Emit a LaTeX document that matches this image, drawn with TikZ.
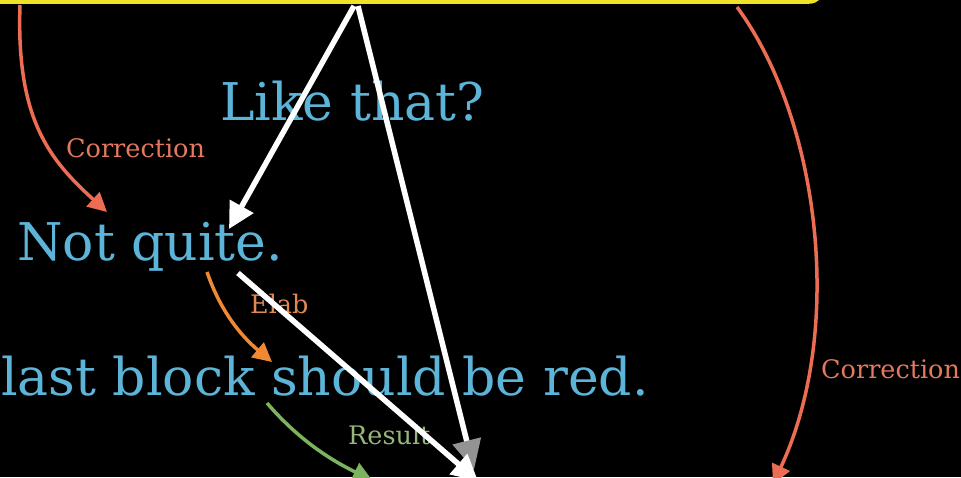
\documentclass[tikz,border=0pt]{standalone}
\usepackage{fontspec}
\setmainfont{DejaVu Serif}
\usetikzlibrary{arrows.meta}
\definecolor{txtblue}{RGB}{92,180,216}
\definecolor{salmon}{RGB}{236,108,84}
\definecolor{orng}{RGB}{240,136,52}
\definecolor{grn}{RGB}{124,180,94}
\definecolor{ylw}{RGB}{240,226,40}
\definecolor{lblsalmon}{RGB}{228,120,96}
\definecolor{lblorng}{RGB}{226,136,84}
\definecolor{lblgrn}{RGB}{150,182,124}
\tikzset{
  bigtext/.style={text=txtblue, font=\fontsize{52}{62}\selectfont, inner sep=0pt, anchor=base west},
  lbl/.style={font=\fontsize{25.5}{30}\selectfont, inner sep=0pt, anchor=base west},
  whitearrow/.style={draw=white, line width=5.5pt, -{Triangle[length=26pt,width=26pt]}},
  relarrow/.style={line width=3.5pt, -{Triangle[length=19pt,width=19pt]}},
}
\begin{document}
\begin{tikzpicture}[x=1pt,y=-1pt]
\useasboundingbox (0,0) rectangle (961,477);
\fill[black] (0,0) rectangle (961,477);
\clip (0,0) rectangle (961,477);
% top block
\draw[ylw, line width=4.5pt, rounded corners=14pt] (-40,-120) rectangle (823,1.5);
\coordinate (topL) at (20,5);
\coordinate (topA) at (354,6);
\coordinate (topB) at (358,6);
\coordinate (topR) at (737,7);
% texts
\node[bigtext] (like) at (220,120) {Like that?};
\node[bigtext] (notq) at (17,260) {Not quite.};
\node[bigtext] (last) at (1,395) {last block should be red.};
\coordinate (lowA) at (478,481);
\coordinate (lowB) at (474,470);
\coordinate (lowC) at (372,480);
\coordinate (lowR) at (773,484);
\coordinate (notqS) at (207,272);
\coordinate (notqW) at (238,273);
\coordinate (lastT) at (272,362);
\coordinate (lastS) at (267,403);
\coordinate (notqT) at (107,212);
\coordinate (notqN) at (229,229);
% labels
\node[lbl, text=lblsalmon] (corrL) at (66,157) {Correction};
\node[lbl, text=lblsalmon] (corrR) at (821,378) {Correction};
\node[lbl, text=lblorng] (elab) at (250,313) {Elab};
\node[lbl, text=lblgrn] (res) at (348,444) {Result};
% colored relation arrows
\draw[relarrow, salmon] (topL) .. controls (16,120) and (50,160) .. (notqT);
\draw[relarrow, salmon] (topR) .. controls (820,120) and (845,330) .. (lowR);
\draw[relarrow, orng] (notqS) .. controls (220,310) and (240,335) .. (lastT);
\draw[relarrow, grn] (lastS) .. controls (290,430) and (320,455) .. (lowC);
% white arrows
\draw[whitearrow] (topA) -- (notqN);
\draw[draw=white, line width=5.5pt, -{Triangle[length=30pt,width=28pt,color=gray!85]}] (topB) -- (lowB);
\draw[whitearrow] (notqW) -- (lowA);
\end{tikzpicture}
\end{document}
